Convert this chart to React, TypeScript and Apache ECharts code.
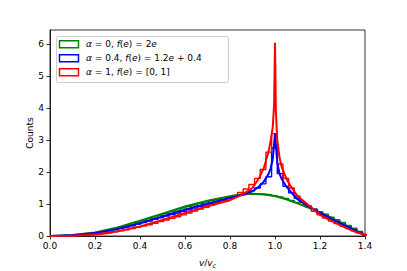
import React, { useEffect, useRef } from "react";
import * as echarts from "echarts";

// Histogram definition: 56 bins over [0, sqrt(2)]
const binCount = 56;
const binMax = Math.SQRT2;

const greenHist = [
  0.0, 0.01, 0.01, 0.02, 0.03, 0.05, 0.07, 0.09, 0.12, 0.15,
  0.19, 0.23, 0.28, 0.32, 0.37, 0.43, 0.48, 0.54, 0.59, 0.65,
  0.7, 0.76, 0.81, 0.87, 0.92, 0.97, 1.02, 1.07, 1.11, 1.15,
  1.19, 1.23, 1.26, 1.29, 1.31, 1.32, 1.32, 1.31, 1.29, 1.26,
  1.22, 1.17, 1.11, 1.05, 0.98, 0.91, 0.84, 0.76, 0.68, 0.59,
  0.51, 0.42, 0.33, 0.24, 0.14, 0.05,
];
const blueHist = [
  0.0, 0.0, 0.01, 0.02, 0.03, 0.04, 0.06, 0.08, 0.1, 0.13,
  0.16, 0.2, 0.24, 0.28, 0.32, 0.37, 0.42, 0.47, 0.52, 0.57,
  0.62, 0.67, 0.72, 0.77, 0.82, 0.87, 0.92, 0.97, 1.02, 1.07,
  1.12, 1.17, 1.22, 1.28, 1.34, 1.41, 1.5, 1.63, 1.85, 2.75,
  1.95, 1.55, 1.35, 1.18, 1.05, 0.94, 0.84, 0.72, 0.63, 0.54,
  0.46, 0.37, 0.29, 0.2, 0.12, 0.04,
];
const redHist = [
  0.0, 0.0, 0.0, 0.01, 0.02, 0.02, 0.03, 0.05, 0.06, 0.08,
  0.1, 0.13, 0.16, 0.19, 0.23, 0.27, 0.31, 0.35, 0.4, 0.45,
  0.5, 0.55, 0.6, 0.66, 0.72, 0.78, 0.84, 0.9, 0.97, 1.04,
  1.11, 1.19, 1.27, 1.36, 1.47, 1.61, 1.8, 2.08, 2.62, 3.2,
  2.25, 1.8, 1.5, 1.25, 1.05, 0.9, 0.77, 0.66, 0.56, 0.47,
  0.39, 0.31, 0.23, 0.16, 0.09, 0.03,
];

// Theoretical curves [v/vc, counts]
const greenCurve: [number, number][] = [
  [0, 0], [0.1, 0.03], [0.2, 0.11], [0.3, 0.27], [0.4, 0.48], [0.5, 0.7],
  [0.6, 0.92], [0.7, 1.1], [0.8, 1.24], [0.85, 1.3], [0.9, 1.32], [0.95, 1.3],
  [1.0, 1.25], [1.05, 1.15], [1.1, 1.02], [1.15, 0.88], [1.2, 0.74],
  [1.25, 0.57], [1.3, 0.39], [1.35, 0.2], [1.4, 0.03], [1.414, 0],
];
const blueCurve: [number, number][] = [
  [0, 0], [0.1, 0.02], [0.2, 0.09], [0.3, 0.22], [0.4, 0.4], [0.5, 0.61],
  [0.6, 0.82], [0.7, 1.02], [0.8, 1.19], [0.85, 1.28], [0.9, 1.4], [0.93, 1.55],
  [0.95, 1.7], [0.97, 1.92], [0.98, 2.1], [0.99, 2.4], [1.0, 3.2], [1.01, 2.3],
  [1.02, 1.95], [1.03, 1.78], [1.05, 1.55], [1.08, 1.3], [1.1, 1.15], [1.15, 0.92],
  [1.2, 0.72], [1.25, 0.54], [1.3, 0.36], [1.35, 0.19], [1.4, 0.03], [1.414, 0],
];
const redCurve: [number, number][] = [
  [0, 0], [0.1, 0.01], [0.2, 0.05], [0.3, 0.15], [0.4, 0.3], [0.5, 0.5],
  [0.6, 0.72], [0.7, 0.93], [0.8, 1.12], [0.85, 1.28], [0.9, 1.5], [0.93, 1.82],
  [0.95, 2.12], [0.97, 2.6], [0.98, 2.95], [0.99, 3.4], [0.996, 4.1], [1.0, 6.04],
  [1.004, 3.9], [1.01, 3.0], [1.02, 2.45], [1.03, 2.15], [1.05, 1.8], [1.07, 1.55],
  [1.1, 1.25], [1.15, 0.95], [1.2, 0.66], [1.25, 0.47], [1.3, 0.3], [1.35, 0.15],
  [1.4, 0.03], [1.414, 0],
];

const xTicks = [0, 0.2, 0.4, 0.6, 0.8, 1.0, 1.2, 1.4];
const yTicks = [0, 1, 2, 3, 4, 5, 6];

const legendLabels = [
  "{i|α} = 0, {i|f}({i|e}) = 2{i|e}",
  "{i|α} = 0.4, {i|f}({i|e}) = 1.2{i|e} + 0.4",
  "{i|α} = 1, {i|f}({i|e}) = [0, 1]",
];
const colors = ["#008000", "#0000ff", "#ff0000"];

const FONT = "DejaVu Sans";

function histSteps(h: number[]): [number, number][] {
  const w = binMax / binCount;
  const pts: [number, number][] = [[0, 0]];
  h.forEach((v, k) => pts.push([k * w, v]));
  pts.push([binCount * w, h[h.length - 1]]);
  pts.push([binCount * w, 0]);
  return pts;
}

export default function App() {
  const ref = useRef<HTMLDivElement>(null);
  useEffect(() => {
    if (!ref.current) return;
    const chart = echarts.init(ref.current, null, { renderer: "svg" });
    const hists = [greenHist, blueHist, redHist];
    const curves = [greenCurve, blueCurve, redCurve];
    const series: any[] = [];
    hists.forEach((h, i) => {
      series.push({
        type: "line",
        data: histSteps(h),
        step: "end",
        showSymbol: false,
        lineStyle: { color: colors[i], width: 1.4 },
        z: 2 + i,
      });
    });
    curves.forEach((c, i) => {
      series.push({
        type: "line",
        data: c,
        showSymbol: false,
        lineStyle: { color: colors[i], width: 2 },
        z: 5 + i,
      });
    });
    const rich = {
      i: { fontStyle: "italic", fontFamily: FONT, fontSize: 9, fill: "#000" },
      s: { fontStyle: "italic", fontFamily: FONT, fontSize: 6.5, fill: "#000", padding: [5, 0, 0, 0] },
    };
    const graphic: any[] = [
      {
        type: "rect",
        shape: { x: 56.5, y: 36.5, width: 172, height: 46, r: 2 },
        style: { fill: "rgba(255,255,255,0.8)", stroke: "#cccccc", lineWidth: 1 },
        z: 20,
      },
    ];
    legendLabels.forEach((t, i) => {
      const cy = 44.3 + i * 14;
      graphic.push({
        type: "rect",
        shape: { x: 59.5, y: cy - 3.5, width: 19, height: 7 },
        style: { fill: "none", stroke: colors[i], lineWidth: 1.5 },
        z: 21,
      });
      graphic.push({
        type: "text",
        x: 86,
        y: cy,
        style: {
          text: t,
          rich,
          fontFamily: FONT,
          fontSize: 9,
          fill: "#000",
          verticalAlign: "middle",
        },
        z: 21,
      });
    });
    graphic.push({
      type: "text",
      x: 207.5,
      y: 263,
      style: {
        text: "{i|v}/{i|v}{s|c}",
        rich,
        fontFamily: FONT,
        fontSize: 9,
        fill: "#000",
        align: "center",
        verticalAlign: "middle",
      },
    });
    graphic.push({
      type: "text",
      x: 30,
      y: 133,
      rotation: Math.PI / 2,
      style: {
        text: "Counts",
        fontFamily: FONT,
        fontSize: 9,
        fill: "#000",
        align: "center",
        verticalAlign: "middle",
      },
    });
    chart.setOption({
      animation: false,
      grid: {
        left: 50,
        right: 42,
        top: 30,
        bottom: 35,
        show: true,
        borderColor: "#000",
        borderWidth: 0.8,
        backgroundColor: "transparent",
      },
      xAxis: {
        type: "value",
        min: 0,
        max: 1.4,
        interval: 0.2,
        splitLine: { show: false },
        axisLine: { show: true, onZero: false, lineStyle: { color: "#000", width: 0.8 } },
        axisTick: { show: true, length: 3.5, lineStyle: { color: "#000", width: 0.8 }, customValues: xTicks },
        axisLabel: {
          color: "#000",
          fontFamily: FONT,
          fontSize: 9,
          margin: 5,
          customValues: xTicks,
          formatter: (v: number) => v.toFixed(1),
        },
      },
      yAxis: {
        type: "value",
        min: 0,
        max: 6.4375,
        splitLine: { show: false },
        axisLine: { show: true, lineStyle: { color: "#000", width: 0.8 } },
        axisTick: { show: true, length: 3.5, lineStyle: { color: "#000", width: 0.8 }, customValues: yTicks },
        axisLabel: {
          color: "#000",
          fontFamily: FONT,
          fontSize: 9,
          margin: 6,
          customValues: yTicks,
          formatter: (v: number) => String(Math.round(v)),
        },
      },
      series,
      graphic,
    });
    return () => chart.dispose();
  }, []);
  return (
    <div
      ref={ref}
      style={{ position: "fixed", left: 0, top: 0, width: 407, height: 271, background: "#fff" }}
    />
  );
}
